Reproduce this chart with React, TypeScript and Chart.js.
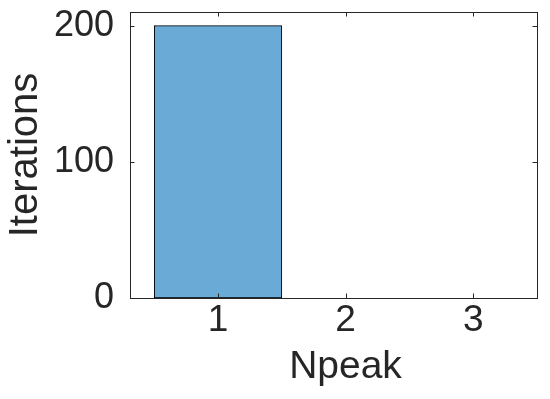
import React, { useEffect, useRef } from "react";
import { Chart, registerables } from "chart.js";

Chart.register(...registerables);

const categories = [1, 2, 3];
const iterations = [200, 0, 0];
const yTicks = [0, 100, 200];
const xTitle = "Npeak";
const yTitle = "Iterations";

const INK = "#262626";
const FONT = "'Liberation Sans', Arial, Helvetica, sans-serif";

const boxPlugin = {
  id: "matlabBox",
  afterDatasetsDraw(chart: any) {
    const { ctx, chartArea: a, scales } = chart;
    const tl = 4.5;
    ctx.save();
    ctx.strokeStyle = INK;
    ctx.lineWidth = 1;
    ctx.beginPath();
    scales.x.ticks.forEach((t: any) => {
      const px = Math.round(scales.x.getPixelForValue(t.value)) + 0.5;
      ctx.moveTo(px, a.bottom);
      ctx.lineTo(px, a.bottom - tl);
      ctx.moveTo(px, a.top);
      ctx.lineTo(px, a.top + tl);
    });
    scales.y.ticks.forEach((t: any) => {
      const py = Math.round(scales.y.getPixelForValue(t.value)) + 0.5;
      ctx.moveTo(a.left, py);
      ctx.lineTo(a.left + tl, py);
      ctx.moveTo(a.right, py);
      ctx.lineTo(a.right - tl, py);
    });
    ctx.stroke();
    ctx.strokeRect(
      Math.round(a.left) + 0.5,
      Math.round(a.top) + 0.5,
      Math.round(a.right - a.left),
      Math.round(a.bottom - a.top)
    );
    // x axis title, slightly right of the axes centre as in the reference
    ctx.fillStyle = INK;
    ctx.font = `39px ${FONT}`;
    ctx.textAlign = "center";
    ctx.textBaseline = "alphabetic";
    ctx.fillText(xTitle, (a.left + a.right) / 2 + 12, 378);
    ctx.restore();
  },
};

export default function App() {
  const ref = useRef<HTMLCanvasElement>(null);
  useEffect(() => {
    document.body.style.margin = "0";
    const chart = new Chart(ref.current!, {
      type: "bar",
      data: {
        datasets: [
          {
            data: categories.map((c, i) => ({ x: c, y: iterations[i] })),
            backgroundColor: "rgb(106,170,214)",
            borderColor: "#000000",
            borderWidth: 1,
            borderSkipped: false,
            barPercentage: 1,
            categoryPercentage: 1,
          },
        ],
      },
      options: {
        animation: false,
        responsive: false,
        maintainAspectRatio: false,
        layout: { padding: { left: 0, right: 13, top: 12, bottom: 0 } },
        plugins: { legend: { display: false }, tooltip: { enabled: false } },
        scales: {
          x: {
            type: "linear",
            offset: false,
            min: 0.31,
            max: 3.5,
            afterBuildTicks: (s: any) => {
              s.ticks = categories.map((v) => ({ value: v }));
            },
            afterFit: (s: any) => {
              s.height = 101;
              s.paddingLeft = 0;
              s.paddingRight = 0;
            },
            grid: { display: false, drawTicks: false },
            border: { display: false },
            ticks: {
              color: INK,
              font: { family: FONT, size: 37 },
              padding: 1,
              maxRotation: 0,
              callback: (v: any) => String(v),
            },
            title: { display: false },
          },
          y: {
            min: 0,
            max: 210,
            afterBuildTicks: (s: any) => {
              s.ticks = yTicks.map((v) => ({ value: v }));
            },
            afterFit: (s: any) => {
              s.width = 130;
              s.paddingTop = 0;
              s.paddingBottom = 0;
            },
            grid: { display: false, drawTicks: false },
            border: { display: false },
            ticks: {
              color: INK,
              font: { family: FONT, size: 36 },
              padding: 16,
              callback: (v: any) => String(v),
            },
            title: {
              display: true,
              text: yTitle,
              color: INK,
              font: { family: FONT, size: 40 },
              padding: { top: 2, bottom: 0 },
            },
          },
        },
      },
      plugins: [boxPlugin],
    } as any);
    return () => chart.destroy();
  }, []);
  return (
    <div style={{ position: "absolute", left: 0, top: 0, width: 550, height: 399, background: "#fff" }}>
      <canvas ref={ref} width={550} height={399} style={{ width: 550, height: 399 }} />
    </div>
  );
}
